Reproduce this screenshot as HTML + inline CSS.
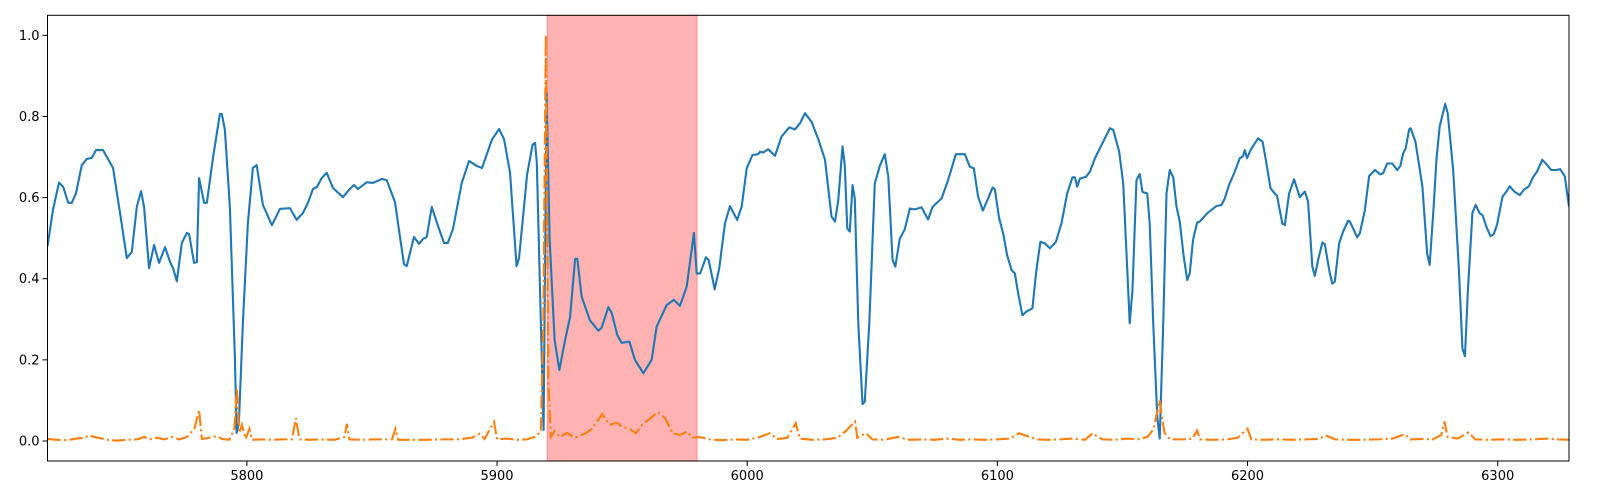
<!DOCTYPE html>
<html><head><meta charset="utf-8"><style>
html,body{margin:0;padding:0;background:#fff;}
svg{display:block;}
text{font-family:"DejaVu Sans","Liberation Sans",sans-serif;font-size:13px;fill:#000;}
</style></head><body>
<svg id="chart" width="1600" height="500" viewBox="0 0 1600 500" xmlns="http://www.w3.org/2000/svg"></svg>
<script>
const blueX=[5720.3,5722.5,5724.9,5726.6,5728.6,5730.0,5731.7,5734.0,5736.0,5738.0,5739.7,5742.5,5746.5,5749.3,5752.0,5754.0,5756.0,5757.7,5758.9,5760.9,5762.9,5764.9,5767.3,5769.3,5770.5,5772.0,5774.0,5776.0,5776.9,5778.9,5780.0,5780.9,5782.9,5784.0,5786.5,5789.2,5790.0,5791.2,5793.2,5795.2,5795.9,5796.8,5798.4,5800.4,5802.4,5803.9,5806.4,5810.0,5813.2,5817.2,5819.9,5822.4,5824.4,5826.4,5828.0,5829.9,5831.9,5834.4,5838.4,5840.8,5842.8,5844.4,5847.9,5850.4,5853.9,5855.9,5859.2,5861.2,5862.8,5863.9,5866.8,5868.8,5870.4,5871.9,5873.9,5876.4,5878.8,5880.3,5882.4,5885.9,5888.8,5891.9,5894.0,5897.9,5900.8,5902.8,5905.2,5907.8,5908.8,5912.0,5914.2,5915.2,5915.9,5918.6,5919.8,5921.0,5923.0,5924.9,5927.2,5929.2,5931.2,5932.1,5933.8,5937.1,5940.5,5941.8,5944.5,5945.8,5948.1,5949.8,5952.9,5955.1,5958.5,5961.8,5963.8,5967.8,5970.7,5973.1,5975.8,5978.7,5979.8,5981.2,5983.5,5984.6,5987.0,5988.8,5991.1,5993.1,5996.0,5997.8,5999.8,6002.1,6004.4,6005.1,6006.4,6008.4,6011.1,6013.7,6016.8,6019.1,6021.1,6023.1,6025.7,6028.4,6031.1,6033.7,6035.1,6036.4,6038.1,6039.0,6040.0,6041.0,6042.1,6043.0,6044.4,6046.1,6047.0,6048.8,6051.0,6053.0,6055.0,6056.4,6058.1,6059.2,6061.0,6063.0,6065.0,6067.0,6069.7,6072.3,6074.1,6077.7,6080.3,6083.4,6087.0,6089.0,6090.6,6092.3,6094.2,6096.3,6098.1,6099.0,6100.7,6102.3,6103.9,6105.7,6107.0,6108.3,6110.0,6111.6,6114.0,6115.6,6117.2,6119.0,6121.0,6123.4,6125.6,6127.9,6130.0,6131.0,6131.9,6133.0,6135.4,6137.0,6139.0,6142.0,6145.0,6146.3,6148.7,6150.3,6152.3,6152.9,6154.0,6155.6,6156.9,6158.0,6159.9,6160.9,6162.3,6163.9,6164.9,6166.3,6167.6,6168.9,6170.3,6171.6,6172.9,6174.5,6175.9,6176.9,6178.2,6179.8,6180.9,6184.2,6187.6,6189.6,6190.9,6192.6,6194.9,6196.9,6198.2,6198.9,6199.8,6201.2,6204.2,6206.0,6207.3,6209.2,6210.2,6211.8,6213.9,6214.9,6216.6,6218.6,6220.9,6222.9,6224.2,6225.9,6226.9,6228.2,6229.9,6230.9,6232.9,6233.9,6234.9,6236.6,6238.2,6240.2,6240.9,6242.5,6243.8,6244.9,6246.9,6248.6,6250.9,6253.1,6254.2,6255.8,6257.9,6259.8,6261.1,6262.2,6263.2,6264.6,6265.2,6267.1,6269.9,6271.8,6272.8,6274.4,6275.5,6276.8,6279.0,6280.0,6282.2,6284.5,6285.9,6286.9,6288.1,6289.9,6291.2,6292.8,6293.9,6295.5,6297.1,6298.4,6299.7,6301.9,6303.5,6304.8,6306.8,6308.8,6310.4,6312.5,6314.1,6315.7,6317.8,6319.4,6321.4,6323.4,6325.0,6326.8,6328.5];
const blueY=[0.48,0.57,0.637,0.626,0.587,0.587,0.611,0.680,0.695,0.698,0.717,0.717,0.673,0.562,0.451,0.466,0.577,0.616,0.577,0.426,0.483,0.439,0.478,0.441,0.426,0.394,0.488,0.513,0.510,0.439,0.441,0.648,0.587,0.587,0.700,0.806,0.806,0.767,0.577,0.207,0.02,0.044,0.291,0.537,0.673,0.680,0.582,0.532,0.572,0.574,0.545,0.562,0.587,0.621,0.626,0.648,0.661,0.624,0.601,0.619,0.631,0.621,0.638,0.636,0.646,0.643,0.589,0.503,0.436,0.431,0.503,0.486,0.498,0.503,0.577,0.530,0.488,0.488,0.523,0.636,0.690,0.678,0.673,0.742,0.769,0.744,0.661,0.431,0.451,0.656,0.730,0.735,0.685,0.027,0.86,0.5,0.25,0.175,0.249,0.306,0.449,0.449,0.356,0.298,0.272,0.279,0.330,0.316,0.261,0.242,0.245,0.200,0.167,0.200,0.282,0.335,0.348,0.333,0.380,0.513,0.413,0.413,0.453,0.446,0.374,0.425,0.536,0.579,0.545,0.578,0.672,0.705,0.707,0.713,0.711,0.719,0.703,0.750,0.773,0.768,0.783,0.808,0.787,0.744,0.693,0.553,0.541,0.594,0.726,0.680,0.524,0.516,0.631,0.598,0.290,0.091,0.097,0.290,0.635,0.678,0.707,0.651,0.446,0.430,0.499,0.522,0.573,0.571,0.576,0.546,0.577,0.598,0.643,0.707,0.707,0.676,0.672,0.602,0.568,0.598,0.625,0.620,0.549,0.512,0.458,0.421,0.413,0.364,0.310,0.319,0.327,0.421,0.491,0.487,0.475,0.491,0.536,0.610,0.650,0.650,0.627,0.647,0.651,0.664,0.697,0.734,0.771,0.767,0.713,0.635,0.372,0.290,0.372,0.643,0.658,0.614,0.610,0.536,0.290,0.060,0.006,0.290,0.610,0.668,0.650,0.578,0.541,0.454,0.397,0.413,0.495,0.538,0.541,0.563,0.579,0.582,0.598,0.631,0.664,0.697,0.702,0.717,0.697,0.717,0.746,0.738,0.693,0.623,0.615,0.604,0.536,0.532,0.610,0.645,0.601,0.615,0.590,0.430,0.407,0.446,0.489,0.485,0.413,0.388,0.393,0.487,0.516,0.543,0.541,0.520,0.502,0.512,0.569,0.653,0.668,0.657,0.660,0.684,0.684,0.668,0.678,0.709,0.721,0.768,0.771,0.738,0.627,0.462,0.434,0.578,0.693,0.775,0.831,0.809,0.668,0.421,0.228,0.209,0.372,0.563,0.582,0.561,0.557,0.528,0.505,0.510,0.532,0.602,0.615,0.628,0.614,0.606,0.619,0.628,0.650,0.664,0.693,0.683,0.668,0.668,0.670,0.653,0.578];
const orangeX=[5720.3,5724,5728,5732,5735,5737,5739,5742,5745,5748,5752,5756,5759,5761,5764,5767,5770,5773,5776,5779,5780.9,5782,5785,5788,5790,5793,5795,5796,5797,5798,5799.5,5801,5802,5806,5810,5814,5818,5819.6,5821,5825,5830,5835,5839,5840,5841,5846,5852,5858,5859.4,5860.5,5866,5872,5878,5884,5890,5893,5895,5898.8,5900,5904,5908,5912,5915,5917.5,5918.5,5919.5,5920.5,5921.5,5923,5925,5928,5931,5935,5938,5942,5945,5948,5950,5953,5955.5,5958,5961.3,5964.3,5967.2,5970.2,5973,5976,5978,5981,5985,5990,5995,6000,6005,6009,6012,6016,6019.4,6021,6026,6031,6036,6039.5,6043.1,6044,6047.5,6050,6055,6060,6065,6070,6075,6080,6085,6090,6095,6100,6105,6108.6,6112,6116,6120,6125,6130,6135,6138,6142,6147,6152,6156,6160,6162.5,6164.8,6166.8,6169,6174,6178,6179.8,6181,6186,6192,6196,6200,6201.5,6206,6212,6218,6224,6228,6231.6,6235,6240,6246,6252,6258,6262.8,6265,6270,6274,6277.5,6278.7,6280,6284,6288.3,6291,6296,6302,6308,6314,6320,6324,6328.5];
const orangeY=[0.005,0.003,0.002,0.006,0.008,0.014,0.010,0.006,0.002,0.001,0.003,0.004,0.010,0.004,0.008,0.004,0.010,0.004,0.010,0.03,0.076,0.005,0.008,0.012,0.005,0.003,0.03,0.13,0.02,0.04,0.005,0.03,0.003,0.004,0.003,0.004,0.004,0.056,0.004,0.003,0.004,0.003,0.01,0.042,0.004,0.003,0.004,0.004,0.03,0.003,0.003,0.003,0.004,0.004,0.008,0.018,0.005,0.047,0.004,0.006,0.003,0.004,0.01,0.023,0.3,1.0,0.15,0.01,0.025,0.01,0.02,0.008,0.018,0.03,0.066,0.04,0.045,0.035,0.03,0.019,0.04,0.056,0.071,0.056,0.019,0.015,0.023,0.008,0.01,0.004,0.002,0.004,0.003,0.01,0.019,0.005,0.008,0.044,0.006,0.003,0.004,0.008,0.025,0.048,0.008,0.019,0.004,0.003,0.01,0.003,0.004,0.003,0.006,0.003,0.004,0.003,0.004,0.006,0.019,0.012,0.004,0.003,0.004,0.006,0.003,0.019,0.004,0.003,0.006,0.004,0.01,0.03,0.10,0.02,0.004,0.004,0.006,0.026,0.004,0.003,0.004,0.008,0.03,0.004,0.003,0.004,0.003,0.004,0.005,0.013,0.004,0.003,0.003,0.004,0.006,0.017,0.004,0.005,0.004,0.015,0.048,0.01,0.006,0.021,0.004,0.003,0.004,0.003,0.004,0.006,0.004,0.003];
const xTicks=[5800,5900,6000,6100,6200,6300];
const yTicks=[0.0,0.2,0.4,0.6,0.8,1.0];
const spanRange=[5920,5980];

const L=47.5,R=1569,T=15.3,B=461;
const XMIN=5720.3,XMAX=6328.5,YMIN=-0.0496,YMAX=1.0516;
const sx=v=>L+(v-XMIN)/(XMAX-XMIN)*(R-L);
const sy=v=>441-v*405.7;
const NS="http://www.w3.org/2000/svg";
const svg=document.getElementById('chart');
function mk(tag,attrs,parent){const e=document.createElementNS(NS,tag);for(const k in attrs)e.setAttribute(k,attrs[k]);(parent||svg).appendChild(e);return e;}

const clip=mk('clipPath',{id:'plotclip'});
mk('rect',{x:L,y:T,width:R-L,height:B-T},clip);

const span=mk('rect',{x:sx(spanRange[0]),y:T,width:sx(spanRange[1])-sx(spanRange[0]),height:B-T,fill:'rgba(255,0,0,0.3)',stroke:'rgba(255,0,0,0.3)','stroke-width':1});



function pathFrom(xs,ys){return xs.map((x,i)=>(i?'L':'M')+sx(x).toFixed(2)+','+sy(ys[i]).toFixed(2)).join('');}
const blue=mk('path',{d:pathFrom(blueX,blueY),fill:'none',stroke:'#1f77b4','stroke-width':2.1,'stroke-linejoin':'round','clip-path':'url(#plotclip)'});


const orange=mk('path',{d:pathFrom(orangeX,orangeY),fill:'none',stroke:'#ff7f0e','stroke-width':2.1,'stroke-dasharray':'13.3,3.3,2.1,3.3','clip-path':'url(#plotclip)'});



const frame=mk('rect',{x:L,y:T,width:R-L,height:B-T,fill:'none',stroke:'#000','stroke-width':1});



xTicks.forEach(t=>{
  const x=sx(t);
  const tk=mk('line',{x1:x,x2:x,y1:B,y2:B+5,stroke:'#000','stroke-width':1});
  
  
  const lb=mk('text',{x:x,y:B+19,'text-anchor':'middle'});
  lb.textContent=String(t);
  
  
});
yTicks.forEach(t=>{
  const y=sy(t);
  const tk=mk('line',{x1:L-5,x2:L,y1:y,y2:y,stroke:'#000','stroke-width':1});
  
  
  const lb=mk('text',{x:L-8,y:y+4.5,'text-anchor':'end'});
  lb.textContent=t.toFixed(1);
  
  
});
</script>
</body></html>
